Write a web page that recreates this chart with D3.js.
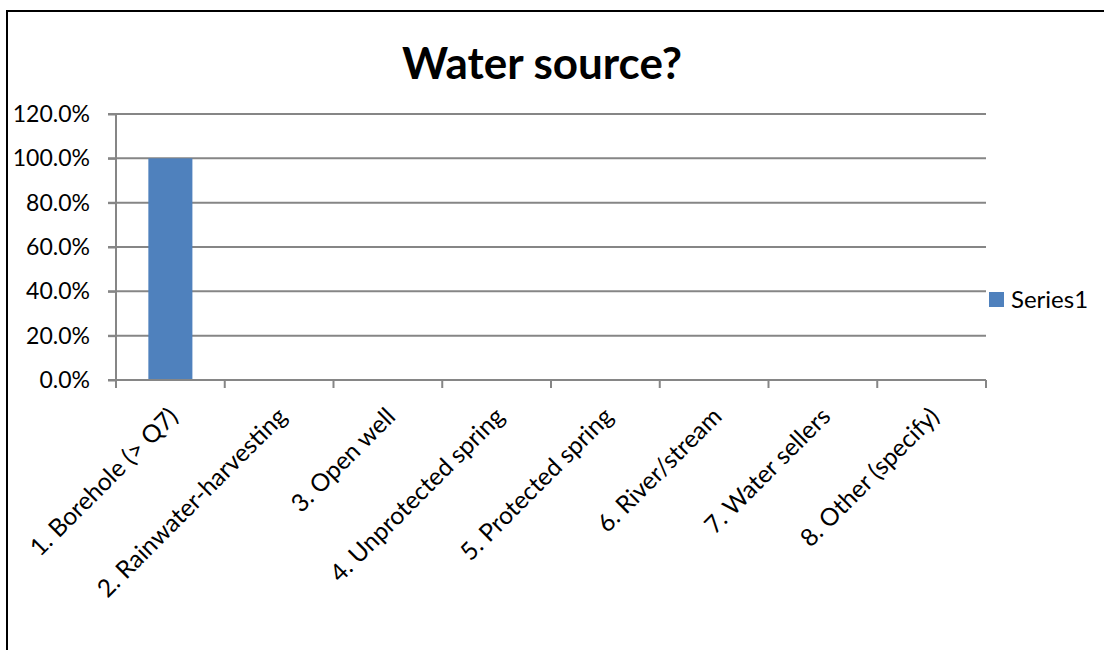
<!DOCTYPE html>
<html>
<head>
<meta charset="utf-8">
<script src="https://cdn.jsdelivr.net/npm/d3@7"></script>
<style>
  html, body { margin: 0; padding: 0; background: #fff; }
  svg { display: block; }
  text { font-family: Lato, "Open Sans", sans-serif; fill: #000; }
</style>
</head>
<body>
<svg id="chart" width="1104" height="650"></svg>
<script>
const title = "Water source?";
const categories = [
  "1. Borehole (> Q7)",
  "2. Rainwater-harvesting",
  "3. Open well",
  "4. Unprotected spring",
  "5. Protected spring",
  "6. River/stream",
  "7. Water sellers",
  "8. Other (specify)"
];
const seriesName = "Series1";
const values = [1.0, 0, 0, 0, 0, 0, 0, 0];
const yTicks = [0, 0.2, 0.4, 0.6, 0.8, 1.0, 1.2];

const svg = d3.select("#chart");
const pLeft = 116, pRight = 986, pTop = 114, pBottom = 380;
const gridColor = "#868686";

// outer border
svg.append("rect").attr("x", 7).attr("y", 11).attr("width", 1110).attr("height", 660)
  .attr("fill", "none").attr("stroke", "#000").attr("stroke-width", 2);

const x = d3.scaleBand().domain(categories).range([pLeft, pRight]).padding(0);
const y = d3.scaleLinear().domain([0, 1.2]).range([pBottom, pTop]);

// title
svg.append("text").attr("x", 542).attr("y", 79).attr("text-anchor", "middle")
  .style("font-size", "44px").style("font-weight", "bold").text(title);

// gridlines
svg.append("g").selectAll("line").data(yTicks.filter(d => d > 0)).join("line")
  .attr("x1", pLeft - 8).attr("x2", pRight).attr("y1", d => y(d)).attr("y2", d => y(d))
  .attr("stroke", gridColor).attr("stroke-width", 2);

// y axis
const yAxis = svg.append("g").attr("transform", `translate(${pLeft},0)`)
  .call(d3.axisLeft(y).tickValues(yTicks).tickFormat(d3.format(".1%")).tickSize(8).tickPadding(18));
yAxis.select(".domain").attr("stroke", gridColor).attr("stroke-width", 2).attr("d", `M0,${pTop}V${pBottom}`);
yAxis.selectAll(".tick line").attr("stroke", gridColor).attr("stroke-width", 2);
yAxis.selectAll(".tick text").style("font-size", "23px").style("font-family", "Lato").attr("fill", "#000");

// bars
const barW = x.bandwidth() * 0.405;
svg.append("g").selectAll("rect").data(values).join("rect")
  .attr("x", (d, i) => x(categories[i]) + x.bandwidth() / 2 - barW / 2)
  .attr("width", barW)
  .attr("y", d => y(d))
  .attr("height", d => y(0) - y(d))
  .attr("fill", "#4F81BD");

// x axis
const xAxis = svg.append("g").attr("transform", `translate(0,${pBottom})`);
xAxis.append("line").attr("x1", pLeft - 8).attr("x2", pRight).attr("y1", 0).attr("y2", 0)
  .attr("stroke", gridColor).attr("stroke-width", 2);
const boundaries = categories.map(c => x(c)).concat([pRight]);
xAxis.selectAll("line.tk").data(boundaries).join("line").attr("class", "tk")
  .attr("x1", d => d).attr("x2", d => d).attr("y1", 0).attr("y2", 8)
  .attr("stroke", gridColor).attr("stroke-width", 2);
xAxis.selectAll("text").data(categories).join("text")
  .attr("text-anchor", "end")
  .attr("transform", d => `translate(${x(d) + x.bandwidth() / 2 + 3},${32}) rotate(-45)`)
  .attr("dy", "0.35em")
  .style("font-size", "24.5px")
  .text(d => d);

// legend
svg.append("rect").attr("x", 989).attr("y", 292).attr("width", 15).attr("height", 15).attr("fill", "#4F81BD");
svg.append("text").attr("x", 1011).attr("y", 300).attr("dy", "0.35em").style("font-size", "24px").text(seriesName);
</script>
</body>
</html>
